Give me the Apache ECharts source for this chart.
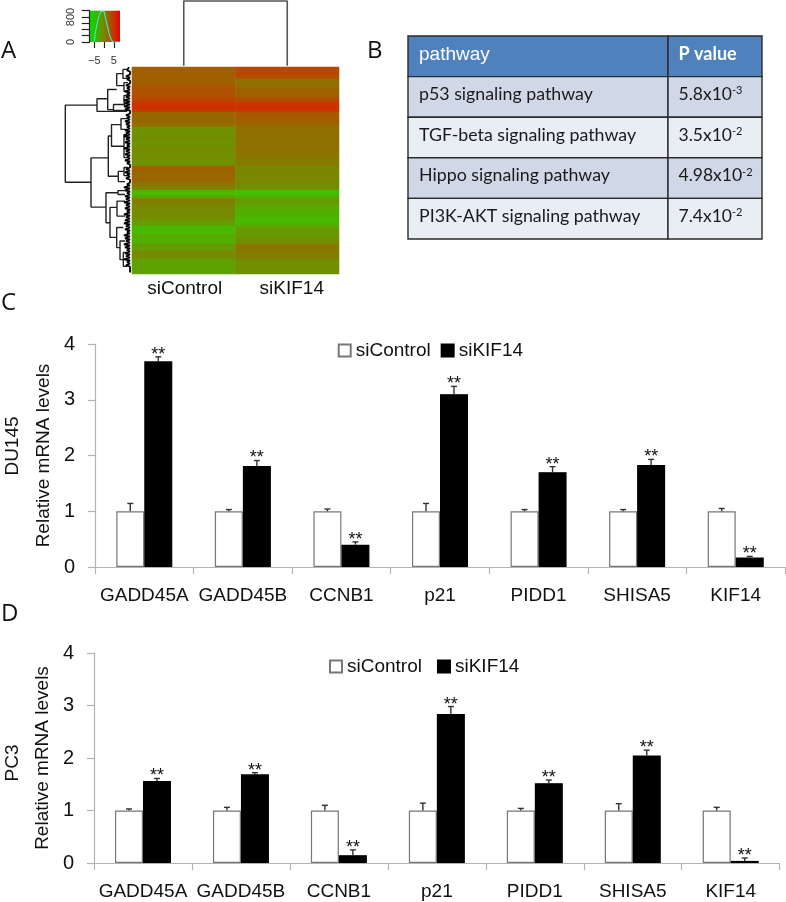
<!DOCTYPE html>
<html><head><meta charset="utf-8">
<style>html,body{margin:0;padding:0;background:#fff}#c{width:786px;height:902px}</style>
<script src="https://cdn.jsdelivr.net/npm/echarts@6/dist/echarts.min.js"></script>
</head><body><div id="c"></div>
<script>
const genes = ['GADD45A','GADD45B','CCNB1','p21','PIDD1','SHISA5','KIF14'];
const seriesNames = ['siControl','siKIF14'];
const du145Ctrl = [1,1,1,1,1,1,1];
const du145CtrlTop = [1.14,1.03,1.04,1.14,1.03,1.03,1.05];
const du145Kd = [3.69,1.81,0.40,3.10,1.70,1.83,0.17];
const du145KdTop = [3.77,1.91,0.45,3.24,1.80,1.93,0.19];
const pc3Ctrl = [1,1,1,1,1,1,1];
const pc3CtrlTop = [1.03,1.06,1.10,1.14,1.04,1.13,1.06];
const pc3Kd = [1.56,1.69,0.15,2.84,1.52,2.05,0.04];
const pc3KdTop = [1.61,1.72,0.25,2.98,1.58,2.15,0.095];

const heatCols = ['siControl','siKIF14'];
const heatLeft = [2,2,2,2,2,2,2.5,3,3,3,3.5,4,5,5,4.5,1.5,1.5,1.5,1.5,1,-1,-1.2,-1,-0.8,-1,-1.2,-1,-0.6,-1,-0.8,-1,-1.2,-1,2,2,1.5,1.5,2,1,0.5,0,-3.5,-3.5,-2,0.5,0,-0.5,-0.5,-0.8,-0.5,-1,-1.5,-2,-3.5,-3.5,-3.5,-2.5,-3.2,-2.8,-1.5,-2,-1,-0.5,-0.8,-2,-2,-2.2,-2,-2];
const heatRight = [3.5,3.5,3.5,3,1,1,1.2,1.8,2,1.8,3,3.5,5,5.2,4.5,2.5,2.5,2,2,1.5,1,1,1,1,0.8,1,1,1,0.8,0.5,0.5,0.3,0.5,-0.5,-0.5,-0.3,-0.5,-0.5,-0.5,-0.8,-1,-4,-4,-2.5,-1.5,-1.8,-2.5,-2.8,-2.8,-3,-3.5,-3.8,-3,-2,-1.5,-1.5,-1.5,-1,-1,0.5,0.8,0.3,0,0.2,-0.8,-1,-1,-0.8,-1];
// dendrogram merges: [height, rowTop, rowBottom, heightTopChild, heightBottomChild]
const rowMerges = [
[64.7,12.7,38.4,33,39],[33,10.6,14.8,22.3,3],[22.3,7.5,14.2,13.3,16.5],[13.3,2.2,6.2,7,6],[7,0.8,3.8,2,2],[6,5.2,8.2,2,2],[16.5,12.5,14.5,5,2],[6,9.5,12,2,2],
[39,30.3,46.7,21.7,24],[21.7,23,36.4,18.5,11.7],[18.5,19.2,26.4,9,6],[9,17.2,20.8,3,3],[6,22.5,30.2,3,3],[11.7,34.8,38.2,6,5],[6,33.5,36.2,2,2],
[24,41.9,51.9,12,20],[12,41.2,42.5,5,5],[20,46.8,56.8,13,13.3],[13,44.7,49.7,5,5],[13.3,53.5,60.2,6.7,10],[10,58,64.2,5,6.7],[6.7,61.8,66.4,3,3]];
const leafDepth = [1,3,2,4,3,2,4,3,5,3,4,6,5,6,5,2,4,3,5,4,3,5,4,6,4,5,3,6,4,5,3,5,3,2,4,5,3,4,2,3,6,5,3,5,4,6,4,5,3,6,4,5,6,4,5,3,6,5,4,6,5,3,5,4,6,3,4,2,1];
const colMerge = [[0,0],[0,1],[1,1],[1,0]];
const keyBins = [[-5,0],[-4,280],[-3,600],[-2,860],[-1,980],[0,980],[1,830],[2,560],[3,280],[4,90],[5,0],[8,0]];
const keyXTicks = [-5,0,5], keyXLabels = [-5,5], keyYShown = [0,800];

const pathways = ['p53 signaling pathway','TGF-beta signaling pathway','Hippo signaling pathway','PI3K-AKT signaling pathway'];
const pBase = ['5.8x10','3.5x10','4.98x10','7.4x10'];
const pExp = ['-3','-2','-2','-2'];
const tableHeader = ['pathway','P value'];
const rowFills = ['#d0d8e8','#e9edf4'];

const SANS = '"Liberation Sans", Arial, sans-serif';
const BAR = 28;

const heatData = [];
heatLeft.forEach((v,i)=>heatData.push([0,i,v]));
heatRight.forEach((v,i)=>heatData.push([1,i,v]));
const dendroLines = [];
rowMerges.forEach(m=>{dendroLines.push([m[3],m[1]],[m[0],m[1]],[m[0],m[2]],[m[4],m[2]],[null,null]);});
const comb = [];
leafDepth.forEach((d,i)=>{comb.push([d,i+0.1],[0,i+0.5]);});

function errSeries(name,xi,yi,vals,tops,side,stars){
  return {type:'custom',name:name,xAxisIndex:xi,yAxisIndex:yi,z:5,clip:false,silent:true,
    data:vals.map((v,i)=>[i,v,tops[i]]),
    encode:{x:0,y:[1,2]},
    renderItem:(p,api)=>{
      const a=api.coord([api.value(0),api.value(1)]), b=api.coord([api.value(0),api.value(2)]);
      const x=a[0]+side*BAR/2;
      const kids=[
        {type:'line',shape:{x1:x,y1:a[1],x2:x,y2:b[1]},style:{stroke:'#333',lineWidth:1.4}},
        {type:'line',shape:{x1:x-3,y1:b[1],x2:x+3,y2:b[1]},style:{stroke:'#333',lineWidth:1.4}}];
      if(stars) kids.push({type:'text',style:{text:'**',x:x,y:b[1]+7,align:'center',verticalAlign:'bottom',fontSize:18,fontFamily:SANS,fill:'#111'}});
      return {type:'group',children:kids};
    }};
}
function barSeries(name,xi,yi,vals,color,border){
  return {type:'bar',name:name,xAxisIndex:xi,yAxisIndex:yi,data:vals,barWidth:BAR,barGap:0,
    itemStyle:{color:color,borderColor:border,borderWidth:1.2},silent:true};
}
function catAxis(gi){return {type:'category',gridIndex:gi,data:genes,
  axisLine:{lineStyle:{color:'#b4b4b4',width:1.2}},axisTick:{show:true,length:7,lineStyle:{color:'#b4b4b4',width:1.2}},
  axisLabel:{fontSize:19,fontFamily:SANS,color:'#111',margin:19,interval:0},splitLine:{show:false}};}
function valAxis(gi,gap){return {type:'value',gridIndex:gi,min:0,max:4,interval:1,name:'Relative mRNA levels',nameLocation:'middle',nameGap:gap,
  nameTextStyle:{fontSize:19,fontFamily:SANS,color:'#111'},
  axisLine:{show:true,lineStyle:{color:'#b4b4b4',width:1.2}},axisTick:{show:true,length:7,lineStyle:{color:'#b4b4b4',width:1.2}},
  axisLabel:{fontSize:20,fontFamily:SANS,color:'#111',margin:20},splitLine:{show:false}};}
function hidden(type,gi,min,max,inv){return {type,gridIndex:gi,min,max,inverse:!!inv,show:false};}
function letter(t,x,y){return {type:'text',left:x,top:y,style:{text:t,fontSize:24,fontFamily:'"Open Sans", sans-serif',fill:'#111'}};}
function side(t,x,y){return {type:'text',x:x,y:y,rotation:Math.PI/2,style:{text:t,fontSize:19,fontFamily:SANS,fill:'#111',align:'center',verticalAlign:'middle'}};}

const option = {
  animation:false,backgroundColor:'#fff',
  grid:[
    {left:132,top:67,width:207,height:207},
    {left:62,top:67,width:68,height:207},
    {left:183.75,top:1,width:103.5,height:64.7},
    {left:89.7,top:10.7,width:30.3,height:31.3,show:true,borderWidth:0,
      backgroundColor:new echarts.graphic.LinearGradient(0,0,1,0,[{offset:0,color:'#00e000'},{offset:0.5,color:'#808000'},{offset:1,color:'#f00000'}])},
    {left:408,top:36,width:354,height:203},
    {left:95,top:344,width:690,height:223},
    {left:94,top:653,width:685.7,height:210}
  ],
  xAxis:[
    {type:'category',gridIndex:0,data:heatCols,axisLine:{show:false},axisTick:{show:false},
      axisLabel:{interval:0,hideOverlap:false,fontSize:19,fontFamily:SANS,color:'#111',margin:5,
        formatter:v=>(v===heatCols[1]?'{b|':'{a|')+v+'}',
        rich:{a:{fontSize:19,fontFamily:SANS,color:'#111',padding:[0,0,0,2]},b:{fontSize:19,fontFamily:SANS,color:'#111',padding:[0,0,0,9]}}}},
    hidden('value',1,0,68,true),
    hidden('value',2,0,1),
    {type:'value',gridIndex:3,min:-7.3,max:8.1,splitLine:{show:false},axisLine:{show:false},
      axisTick:{show:true,length:6,customValues:keyXTicks,lineStyle:{color:'#222',width:1.2}},
      axisLabel:{customValues:keyXLabels,fontSize:11,fontFamily:SANS,color:'#333',margin:13,formatter:v=>String(v).replace('-','\u2212')}},
    hidden('value',4,0,354),
    catAxis(5),catAxis(6)
  ],
  yAxis:[
    {type:'category',gridIndex:0,inverse:true,data:heatLeft.map((_,i)=>i),show:false},
    hidden('value',1,0,69,true),
    hidden('value',2,0,1),
    {type:'value',gridIndex:3,min:0,max:1000,interval:200,splitLine:{show:false},axisLine:{show:true,onZero:false,lineStyle:{color:'#222',width:1.2}},
      axisTick:{show:true,length:8,lineStyle:{color:'#222',width:1.2}},
      axisLabel:{rotate:90,fontSize:11,fontFamily:SANS,color:'#333',margin:13,formatter:v=>keyYShown.includes(v)?String(v):''}},
    hidden('value',4,0,5,true),
    valAxis(5,41),valAxis(6,41)
  ],
  visualMap:{show:false,type:'continuous',seriesIndex:0,min:-8,max:8,inRange:{color:['#00ff00','#808000','#ff0000']}},
  legend:[
    {left:332.7,top:336,icon:'rect',itemWidth:12,itemHeight:12,itemGap:10,selectedMode:false,data:seriesNames,textStyle:{fontSize:19,fontFamily:SANS,color:'#111'}},
    {left:324,top:652,icon:'rect',itemWidth:12,itemHeight:12,itemGap:15,selectedMode:false,data:seriesNames,textStyle:{fontSize:19,fontFamily:SANS,color:'#111'}}
  ],
  series:[
    {type:'heatmap',xAxisIndex:0,yAxisIndex:0,data:heatData,silent:true,progressive:0},
    {type:'line',xAxisIndex:1,yAxisIndex:1,data:dendroLines,showSymbol:false,connectNulls:false,silent:true,lineStyle:{color:'#222',width:1.4}},
    {type:'line',xAxisIndex:1,yAxisIndex:1,data:comb,showSymbol:false,silent:true,lineStyle:{color:'#000',width:1.8}},
    {type:'line',xAxisIndex:2,yAxisIndex:2,data:colMerge,showSymbol:false,silent:true,clip:false,lineStyle:{color:'#555',width:1.6}},
    {type:'line',xAxisIndex:3,yAxisIndex:3,data:keyBins,step:'middle',showSymbol:false,silent:true,z:10,lineStyle:{color:'#40e8d0',width:1.1}},
    {type:'custom',xAxisIndex:4,yAxisIndex:4,silent:true,clip:false,data:[0,1,2,3,4].map(i=>[i]),encode:{y:0},
      renderItem:(p,api)=>{
        const r=api.value(0);
        const tl=api.coord([0,r]), m=api.coord([260,r+1]), br=api.coord([354,r+1]);
        const cy=(tl[1]+br[1])/2;
        const fill=r===0?'#4f81bd':rowFills[(r-1)%2];
        const line={stroke:'#2b2b2b',lineWidth:1.4};
        const kids=[
          {type:'rect',shape:{x:tl[0],y:tl[1],width:m[0]-tl[0],height:br[1]-tl[1]},style:{fill,...line}},
          {type:'rect',shape:{x:m[0],y:tl[1],width:br[0]-m[0],height:br[1]-tl[1]},style:{fill,...line}}];
        if(r===0){
          kids.push({type:'text',z2:5,style:{text:tableHeader[0],x:tl[0]+11,y:cy-2,verticalAlign:'middle',fontSize:19,fontFamily:SANS,fill:'#fff'}});
          kids.push({type:'text',z2:5,style:{text:tableHeader[1],x:m[0]+10.5,y:cy-2,verticalAlign:'middle',fontSize:18,fontWeight:'bold',fontFamily:'Lato',fill:'#fff'}});
        }else{
          kids.push({type:'text',z2:5,style:{text:pathways[r-1],x:tl[0]+11,y:cy-2.5,verticalAlign:'middle',fontSize:17.8,fontFamily:'Lato',fill:'#1a1a1a'}});
          kids.push({type:'text',z2:5,style:{text:'{a|'+pBase[r-1]+'}{e|'+pExp[r-1]+'}',x:m[0]+10.5,y:cy-2.5,verticalAlign:'middle',
            rich:{a:{fontSize:17.5,fontFamily:'Lato',fill:'#1a1a1a'},e:{fontSize:11,fontFamily:'Lato',fill:'#1a1a1a',verticalAlign:'top'}}}});
        }
        return {type:'group',children:kids};
      }},
    barSeries(seriesNames[0],5,5,du145Ctrl,'#fff','#777'),
    barSeries(seriesNames[1],5,5,du145Kd,'#000','#000'),
    errSeries('e1',5,5,du145Ctrl,du145CtrlTop,-1,false),
    errSeries('e2',5,5,du145Kd,du145KdTop,1,true),
    barSeries(seriesNames[0],6,6,pc3Ctrl,'#fff','#777'),
    barSeries(seriesNames[1],6,6,pc3Kd,'#000','#000'),
    errSeries('e3',6,6,pc3Ctrl,pc3CtrlTop,-1,false),
    errSeries('e4',6,6,pc3Kd,pc3KdTop,1,true)
  ],
  graphic:[letter('A',1,39),letter('B',367,39),letter('C',1,291),letter('D',1,602),side('DU145',12.5,446),side('PC3',12.5,763)]
};
echarts.init(document.getElementById('c'),null,{renderer:'canvas'}).setOption(option);
</script></body></html>
